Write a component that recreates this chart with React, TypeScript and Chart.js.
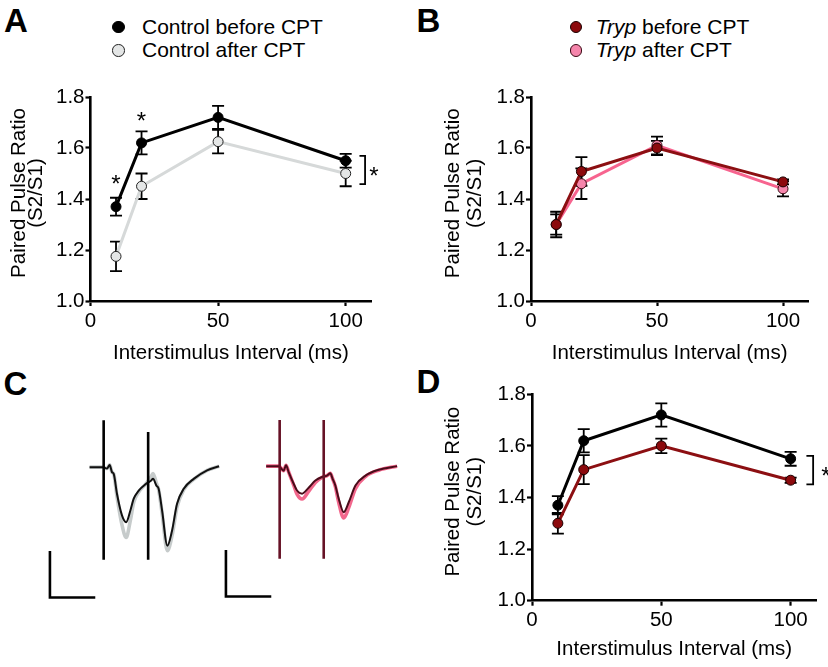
import React, { useEffect, useRef } from "react";
import { Chart, registerables } from "chart.js";

Chart.register(...registerables);

const FONT = "'Liberation Sans', Arial, Helvetica, sans-serif";

// ---------------- Paired-pulse data (panels A, B, D) ----------------
const intervals = [10, 20, 50, 100];
const xTickValues = [0, 50, 100];
const yTickValues = [1.0, 1.2, 1.4, 1.6, 1.8];

const controlBefore = [1.37, 1.62, 1.72, 1.55];
const controlBeforeSem = [0.035, 0.045, 0.045, 0.027];
const controlAfter = [1.175, 1.45, 1.625, 1.5];
const controlAfterSem = [0.058, 0.05, 0.046, 0.05];
const trypBefore = [1.3, 1.508, 1.6, 1.467];
const trypBeforeSem = [0.04, 0.056, 0.028, 0.01];
const trypAfter = [1.3, 1.46, 1.61, 1.44];
const trypAfterSem = [0.05, 0.06, 0.035, 0.03];

const xAxisTitle = "Interstimulus Interval (ms)";
const yAxisTitle = ["Paired Pulse Ratio", "(S2/S1)"];

// ---------------- Example traces (panel C): time in ms, current in pA ----------------
const ctrlTime = [-16, -1, 3.8, 6.8, 9.4, 11.4, 15.1, 20.8, 25.5, 30.3, 34.1, 39.8, 47.4, 53.7, 56, 59.9, 62.4, 66.3, 72.3, 77.6, 83.3, 90.9, 102.2, 117.4, 131];
const ctrlBeforeTrace = [0, 0, -3, 5, -11, -15, -59, -107, -122, -96, -70, -52, -38, -30, -26, -41, -48, -96, -174, -141, -81, -48, -26, -7, 2];
const ctrlAfterTrace = [0, 0, -3, 5, -11, -15, -65, -128, -156, -118, -78, -55, -38, -22, -14, -36, -50, -102, -185, -152, -88, -50, -27, -7, 2];
const ctrlStimTimes = [0, 50.5];
const ctrlStimPeaks = [104, 78];

const trypTime = [-15.3, -1, 4.5, 7.2, 10.2, 15.9, 19.7, 25.4, 32.9, 40.5, 48.1, 53.8, 57.5, 60.1, 63.2, 67, 72.7, 78.4, 86, 97.4, 112.5, 133.3];
const trypBeforeTrace = [0, 0, -10, 2, -13, -39, -54, -61, -48, -32, -24, -21, -16, -28, -43, -72, -102, -80, -43, -21, -8, 0];
const trypAfterTrace = [0, 0, -10, 2, -13, -42, -62, -73, -56, -36, -25, -21, -16, -28, -45, -80, -115, -92, -50, -23, -9, 0];
const trypStimTimes = [0, 50];
const trypStimPeaks = [102, 102];

const stimFloor = -205;
const scaleBarTime = [-61, -61, -11];
const scaleBarAmp = [-189, -289, -289];

// ---------------- plugins ----------------
const errorBarPlugin = {
  id: "errorBars",
  beforeDatasetsDraw(chart: any) {
    const { ctx } = chart;
    const ys = chart.scales.y;
    ctx.save();
    ctx.strokeStyle = "#000";
    ctx.lineWidth = 1.8;
    chart.data.datasets.forEach((ds: any, di: number) => {
      if (!ds.sem) return;
      const meta = chart.getDatasetMeta(di);
      meta.data.forEach((pt: any, i: number) => {
        const v = ds.data[i].y;
        const x = pt.x;
        const yt = ys.getPixelForValue(v + ds.sem[i]);
        const yb = ys.getPixelForValue(v - ds.sem[i]);
        ctx.beginPath();
        ctx.moveTo(x, yt);
        ctx.lineTo(x, yb);
        ctx.moveTo(x - 6, yt);
        ctx.lineTo(x + 6, yt);
        ctx.moveTo(x - 6, yb);
        ctx.lineTo(x + 6, yb);
        ctx.stroke();
      });
    });
    ctx.restore();
  },
};

const sigPlugin = {
  id: "sig",
  afterDatasetsDraw(chart: any, _args: any, opts: any) {
    const { ctx } = chart;
    const xs = chart.scales.x;
    const ys = chart.scales.y;
    ctx.save();
    ctx.strokeStyle = "#000";
    ctx.fillStyle = "#000";
    ctx.lineWidth = 1.8;
    (opts.brackets || []).forEach((b: any) => {
      const x1 = xs.getPixelForValue(b.x1);
      const x2 = xs.getPixelForValue(b.x2);
      const y1 = ys.getPixelForValue(b.y1);
      const y2 = ys.getPixelForValue(b.y2);
      ctx.beginPath();
      ctx.moveTo(x1, y1);
      ctx.lineTo(x2, y1);
      ctx.lineTo(x2, y2);
      ctx.lineTo(x1, y2);
      ctx.stroke();
    });
    const size = opts.size || 24;
    ctx.font = `${size}px ${FONT}`;
    ctx.textAlign = "center";
    ctx.textBaseline = "alphabetic";
    (opts.stars || []).forEach((s: any) => {
      const x = xs.getPixelForValue(s.x);
      const y = ys.getPixelForValue(s.y);
      ctx.fillText("*", x, y + 0.556 * size);
    });
    ctx.restore();
  },
};

const yTitlePlugin = {
  id: "yTitle",
  afterDraw(chart: any, _args: any, opts: any) {
    const { ctx, chartArea } = chart;
    const cy = (chartArea.top + chartArea.bottom) / 2 + (opts.dy || 0);
    ctx.save();
    ctx.fillStyle = "#000";
    ctx.font = `${opts.size}px ${FONT}`;
    ctx.textAlign = "center";
    ctx.textBaseline = "alphabetic";
    (opts.lines || []).forEach((line: string, i: number) => {
      ctx.save();
      ctx.translate(opts.baselines[i], cy);
      ctx.rotate(-Math.PI / 2);
      ctx.fillText(line, 0, 0);
      ctx.restore();
    });
    ctx.restore();
  },
};

// ---------------- config builders ----------------
type Series = { label: string; values: number[]; sem: number[]; line: string; fill: string; border: string };

const controlBeforeSeries: Series = { label: "Control before CPT", values: controlBefore, sem: controlBeforeSem, line: "#000000", fill: "#000000", border: "#000000" };
const controlAfterSeries: Series = { label: "Control after CPT", values: controlAfter, sem: controlAfterSem, line: "#d6d9d9", fill: "#e4e6e6", border: "#222222" };
const trypBeforeSeries: Series = { label: "Tryp before CPT", values: trypBefore, sem: trypBeforeSem, line: "#8c0f12", fill: "#8c0a0d", border: "#1a0000" };
const trypAfterSeries: Series = { label: "Tryp after CPT", values: trypAfter, sem: trypAfterSem, line: "#f7648f", fill: "#f585ab", border: "#3a0a14" };

type Geom = {
  left: number; top: number; width: number; height: number;
  yW: number; padTop: number; chartH: number; xH: number; padRight: number;
  titleBaselines: number[]; titleDy: number; tickPad: number;
};

function ppConfig(series: Series[], g: Geom, sig: any) {
  const tickFont = { family: FONT, size: 20.5 };
  return {
    type: "line",
    data: {
      datasets: series.map((s) => ({
        label: s.label,
        data: intervals.map((x, i) => ({ x, y: s.values[i] })),
        sem: s.sem,
        borderColor: s.line,
        backgroundColor: s.fill,
        borderWidth: 3,
        tension: 0,
        pointRadius: 5,
        pointBackgroundColor: s.fill,
        pointBorderColor: s.border,
        pointBorderWidth: 1,
        clip: false,
      })),
    },
    options: {
      responsive: false,
      maintainAspectRatio: false,
      animation: false,
      events: [],
      layout: {
        padding: {
          left: 0,
          top: g.padTop,
          right: g.padRight,
          bottom: Math.max(0, g.height - g.padTop - g.chartH - g.xH),
        },
      },
      plugins: {
        legend: { display: false },
        tooltip: { enabled: false },
        sig,
        yTitle: { lines: yAxisTitle, baselines: g.titleBaselines, dy: g.titleDy, size: 20.5 },
      },
      scales: {
        x: {
          type: "linear",
          min: 0,
          max: 110,
          afterBuildTicks: (s: any) => {
            s.ticks = xTickValues.map((v) => ({ value: v }));
          },
          afterFit: (s: any) => {
            s.height = g.xH;
          },
          grid: { display: true, drawOnChartArea: false, drawTicks: true, tickLength: 5, tickWidth: 2.2, tickColor: "#000", color: "#000" },
          border: { display: true, color: "#000", width: 2.6 },
          ticks: { color: "#000", font: tickFont, padding: g.tickPad, maxRotation: 0, autoSkip: false },
          title: { display: true, text: xAxisTitle, color: "#000", font: { family: FONT, size: 20.5, lineHeight: 1 }, padding: { top: 0, bottom: 0 } },
        },
        y: {
          type: "linear",
          min: 1.0,
          max: 1.8,
          afterBuildTicks: (s: any) => {
            s.ticks = yTickValues.map((v) => ({ value: v }));
          },
          afterFit: (s: any) => {
            s.width = g.yW;
          },
          grid: { display: true, drawOnChartArea: false, drawTicks: true, tickLength: 5, tickWidth: 2.2, tickColor: "#000", color: "#000" },
          border: { display: true, color: "#000", width: 2.6 },
          ticks: { color: "#000", font: tickFont, padding: 1, callback: (v: any) => Number(v).toFixed(1) },
          title: { display: false },
        },
      },
    },
    plugins: [errorBarPlugin, sigPlugin, yTitlePlugin],
  };
}

type TraceSpec = {
  time: number[]; before: number[]; after: number[];
  stimTimes: number[]; stimPeaks: number[];
  beforeColor: string; afterColor: string; stimColor: string;
};

const traceXMin = -70, traceXMax = 140, traceYMin = -310, traceYMax = 120;

function traceConfig(t: TraceSpec) {
  const stimData: any[] = [];
  t.stimTimes.forEach((st, i) => {
    stimData.push({ x: st, y: t.stimPeaks[i] });
    stimData.push({ x: st, y: stimFloor });
    stimData.push({ x: st + 0.5, y: null });
  });
  return {
    type: "line",
    data: {
      datasets: [
        { data: stimData, borderColor: t.stimColor, borderWidth: 2.6, pointRadius: 0, tension: 0, spanGaps: false, borderCapStyle: "butt" },
        { data: t.time.map((x, i) => ({ x, y: t.before[i] })), borderColor: t.beforeColor, borderWidth: 2, pointRadius: 0, cubicInterpolationMode: "monotone" },
        { data: t.time.map((x, i) => ({ x, y: t.after[i] })), borderColor: t.afterColor, borderWidth: 3.6, pointRadius: 0, cubicInterpolationMode: "monotone" },
        { data: scaleBarTime.map((x, i) => ({ x, y: scaleBarAmp[i] })), borderColor: "#000", borderWidth: 2.6, pointRadius: 0, tension: 0, borderJoinStyle: "miter", borderCapStyle: "square" },
      ],
    },
    options: {
      responsive: false,
      animation: false,
      events: [],
      layout: { padding: 0 },
      plugins: { legend: { display: false }, tooltip: { enabled: false } },
      scales: {
        x: { type: "linear", display: false, min: traceXMin, max: traceXMax },
        y: { type: "linear", display: false, min: traceYMin, max: traceYMax },
      },
    },
  };
}

// ---------------- components ----------------
function ChartCanvas({ make, left, top, width, height }: any) {
  const ref = useRef<HTMLCanvasElement>(null);
  useEffect(() => {
    const chart = new Chart(ref.current as HTMLCanvasElement, make());
    return () => chart.destroy();
  }, []);
  return (
    <canvas
      ref={ref}
      width={width}
      height={height}
      style={{ position: "absolute", left, top, width, height }}
    />
  );
}

const geomA: Geom = { left: 0, top: 80, width: 400, height: 284, yW: 90.5, padTop: 17, chartH: 204, xH: 62.25, padRight: 28.8, titleBaselines: [25, 42.4], titleDy: -6, tickPad: 2.6 };
const geomB: Geom = { left: 414, top: 80, width: 414, height: 284, yW: 117, padTop: 17, chartH: 204, xH: 62.25, padRight: 19.8, titleBaselines: [45, 67.4], titleDy: -5.7, tickPad: 2.6 };
const geomD: Geom = { left: 414, top: 360, width: 414, height: 300, yW: 118, padTop: 34.3, chartH: 206.4, xH: 59, padRight: 11.5, titleBaselines: [45, 67.4], titleDy: -5.8, tickPad: 2.6 };

const sigA = {
  stars: [{ x: 10, y: 1.478 }, { x: 20, y: 1.725 }, { x: 111.1, y: 1.51 }],
  brackets: [{ x1: 105.4, x2: 107.6, y1: 1.569, y2: 1.458 }],
  size: 24,
};
const sigB = { stars: [], brackets: [], size: 24 };
const sigD = {
  stars: [{ x: 113.6, y: 1.503 }],
  brackets: [{ x1: 106.1, x2: 108.7, y1: 1.561, y2: 1.451 }],
  size: 24,
};

function Legend({ items, markerX, textX }: any) {
  return (
    <>
      {items.map((s: Series, i: number) => {
        const cy = 26.7 + i * 23.3;
        const parts = s.label.split(" ");
        const italicFirst = parts[0] === "Tryp";
        return (
          <React.Fragment key={s.label}>
            <div
              style={{
                position: "absolute",
                left: markerX - 6,
                top: cy - 6,
                width: 10.5,
                height: 10.5,
                borderRadius: "50%",
                background: s.fill,
                border: `1px solid ${s.border}`,
              }}
            />
            <div
              style={{
                position: "absolute",
                left: textX,
                top: cy - 12,
                font: `21px/24px ${FONT}`,
                color: "#000",
                whiteSpace: "nowrap",
              }}
            >
              {italicFirst ? (
                <>
                  <i>{parts[0]}</i> {parts.slice(1).join(" ")}
                </>
              ) : (
                s.label
              )}
            </div>
          </React.Fragment>
        );
      })}
    </>
  );
}

function PanelLetter({ text, left, top }: any) {
  return (
    <div style={{ position: "absolute", left, top, font: `bold 33px/33px ${FONT}`, color: "#000" }}>{text}</div>
  );
}

const ctrlTraceSpec: TraceSpec = {
  time: ctrlTime, before: ctrlBeforeTrace, after: ctrlAfterTrace,
  stimTimes: ctrlStimTimes, stimPeaks: ctrlStimPeaks,
  beforeColor: "#111111", afterColor: "#c6cbcb", stimColor: "#000000",
};
const trypTraceSpec: TraceSpec = {
  time: trypTime, before: trypBeforeTrace, after: trypAfterTrace,
  stimTimes: trypStimTimes, stimPeaks: trypStimPeaks,
  beforeColor: "#4a0c1a", afterColor: "#f2678c", stimColor: "#661226",
};

export default function App() {
  return (
    <div style={{ position: "absolute", left: 0, top: 0, width: 828, height: 667, background: "#fff", overflow: "hidden" }}>
      <PanelLetter text="A" left={4} top={4.1} />
      <PanelLetter text="B" left={416.5} top={4.1} />
      <PanelLetter text="C" left={3.4} top={366.6} />
      <PanelLetter text="D" left={416.5} top={365.1} />

      <Legend items={[controlBeforeSeries, controlAfterSeries]} markerX={118} textX={142} />
      <Legend items={[trypBeforeSeries, trypAfterSeries]} markerX={575.7} textX={595.7} />

      <ChartCanvas {...geomA} make={() => ppConfig([controlBeforeSeries, controlAfterSeries], geomA, sigA)} />
      <ChartCanvas {...geomB} make={() => ppConfig([trypBeforeSeries, trypAfterSeries], geomB, sigB)} />
      <ChartCanvas {...geomD} make={() => ppConfig([controlBeforeSeries, trypBeforeSeries], geomD, sigD)} />

      <ChartCanvas left={42} top={413} width={185} height={194} make={() => traceConfig(ctrlTraceSpec)} />
      <ChartCanvas left={218} top={412} width={185} height={194} make={() => traceConfig(trypTraceSpec)} />
    </div>
  );
}
